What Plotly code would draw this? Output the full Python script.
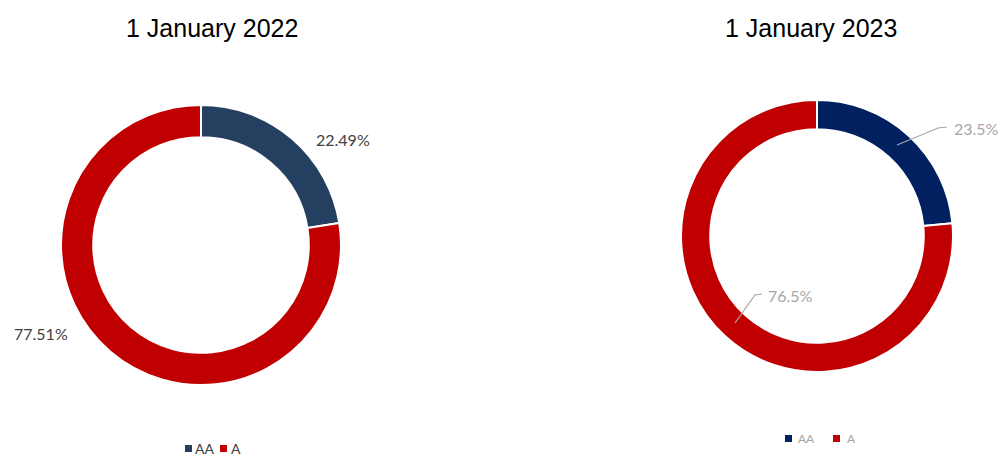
import plotly.graph_objects as go

categories = ["AA", "A"]
values_2022 = [22.49, 77.51]
values_2023 = [23.5, 76.5]
titles = ["1 January 2022", "1 January 2023"]
labels_2022 = ["22.49%", "77.51%"]
labels_2023 = ["23.5%", "76.5%"]

colors_2022 = ["#243F60", "#C00000"]
colors_2023 = ["#002060", "#C00000"]

W, H = 1005, 457

def px(x):
    return x / W

def py(y):
    return 1 - y / H

fig = go.Figure()

fig.add_trace(go.Pie(
    labels=categories, values=values_2022, hole=0.77, sort=False,
    direction="clockwise", rotation=0, textinfo="none", hoverinfo="label+value",
    marker=dict(colors=colors_2022, line=dict(color="white", width=2)),
    domain=dict(x=[px(61), px(341)], y=[py(385), py(105)]),
    showlegend=False,
))
fig.add_trace(go.Pie(
    labels=categories, values=values_2023, hole=0.785, sort=False,
    direction="clockwise", rotation=0, textinfo="none", hoverinfo="label+value",
    marker=dict(colors=colors_2023, line=dict(color="white", width=2)),
    domain=dict(x=[px(681), px(953)], y=[py(372), py(100)]),
    showlegend=False,
))

LBL_FONT = "Lato, Carlito, Liberation Sans"

def A(text, x, y, size, color, family=LBL_FONT, xanchor="center"):
    return dict(text=text, x=px(x), y=py(y), xref="paper", yref="paper",
                xanchor=xanchor, yanchor="middle", showarrow=False,
                font=dict(family=family, size=size, color=color))

def square(x0, y0, s, color):
    return dict(type="rect", xref="paper", yref="paper",
                x0=px(x0), x1=px(x0 + s), y0=py(y0 + s), y1=py(y0),
                fillcolor=color, line=dict(width=0))

ann = [
    A(titles[0], 212, 28, 25, "#000000", family="Arial"),
    A(titles[1], 811, 28, 25, "#000000", family="Arial"),
    A(labels_2022[0], 343, 139, 16, "#404040"),
    A(labels_2022[1], 41, 333, 16, "#404040"),
    A(labels_2023[0], 952, 128, 16, "#A6A6A6", xanchor="left"),
    A(labels_2023[1], 766, 295, 16, "#A6A6A6", xanchor="left"),
]

# legend 2022
leg1_sq_x = [185, 220]
leg1_tx_x = [193, 229]
for c, col, sx, tx in zip(categories, colors_2022, leg1_sq_x, leg1_tx_x):
    ann.append(A(c, tx, 448, 14, "#404040", xanchor="left"))
# legend 2023
leg2_sq_x = [785, 833]
leg2_tx_x = [796, 845]
for c, col, sx, tx in zip(categories, colors_2023, leg2_sq_x, leg2_tx_x):
    ann.append(A(c, tx, 438, 12, "#A6A6A6", xanchor="left"))

shapes = [
    dict(type="path", xref="paper", yref="paper",
         path=f"M {px(897)},{py(145)} L {px(938)},{py(128)} L {px(947)},{py(127)}",
         line=dict(color="#A6A6A6", width=1.2)),
    dict(type="path", xref="paper", yref="paper",
         path=f"M {px(735)},{py(323)} L {px(755)},{py(295)} L {px(762)},{py(294)}",
         line=dict(color="#A6A6A6", width=1.2)),
]
for col, sx in zip(colors_2022, leg1_sq_x):
    shapes.append(square(sx, 445, 7, col))
for col, sx in zip(colors_2023, leg2_sq_x):
    shapes.append(square(sx, 435, 7, col))

fig.update_layout(
    width=W, height=H,
    margin=dict(l=0, r=0, t=0, b=0, autoexpand=False),
    paper_bgcolor="white", plot_bgcolor="white",
    annotations=ann, shapes=shapes,
    showlegend=False,
)

fig.write_html("out.html", post_script="document.body.style.margin='0';",
               config={"displayModeBar": False})
